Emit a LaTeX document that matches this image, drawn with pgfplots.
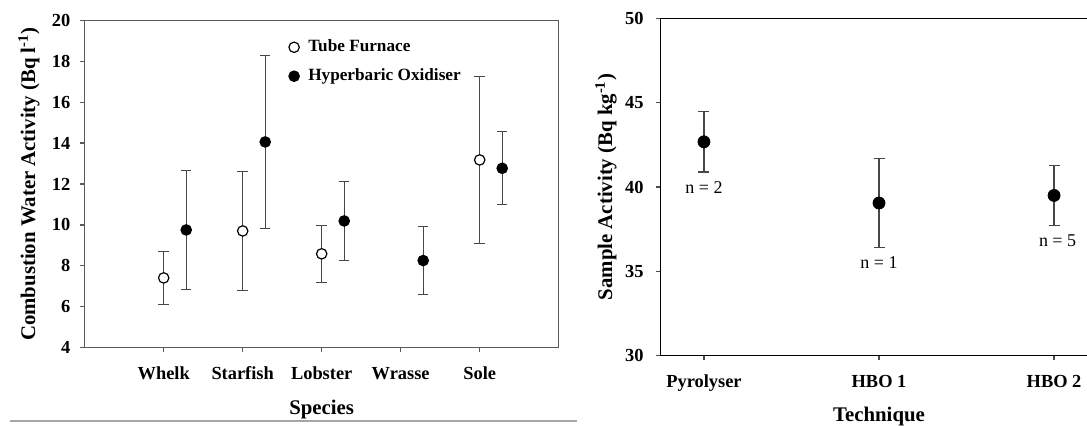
\documentclass[border=0pt]{standalone}
\usepackage{fontspec}
\setmainfont{Liberation Serif}
\usepackage{pgfplots}
\usepackage{pgfplotstable}
\pgfplotsset{compat=1.18}

\pgfplotstableread{
x y e
1 7.40 1.30
2 9.70 2.90
3 8.58 1.40
5 13.18 4.10
}\tubefurnace
\pgfplotstableread{
x y e
1.285 9.75 2.93
2.285 14.06 4.25
3.285 10.19 1.95
4.285 8.25 1.68
5.285 12.77 1.79
}\hyperbaric
\pgfplotstableread{
x y e
1 42.68 1.79
2 39.05 2.65
3 39.50 1.77
}\technique

\begin{document}
\begin{tikzpicture}
\useasboundingbox (0,0) rectangle (543.5pt,212.5pt);
\clip (0,0) rectangle (543.5pt,212.5pt);
\draw[black!35, line width=0.6pt] (5pt,2pt) -- (288.5pt,2pt);

\begin{axis}[
  at={(42.35pt,38.85pt)}, anchor=south west,
  scale only axis, width=237pt, height=163.3pt,
  xmin=0, xmax=6, ymin=4, ymax=20,
  xtick={1,2,3,4,5}, xticklabels={Whelk,Starfish,Lobster,Wrasse,Sole},
  ytick={4,6,...,20},
  tick align=outside, xtick pos=bottom, ytick pos=left,
  major tick length=2.35pt,
  axis line style={black!65, line width=0.7pt},
  every tick/.style={black!65, line width=0.7pt},
  tick label style={font=\fontsize{9.2}{10}\selectfont\bfseries},
  /pgf/number format/assume math mode=true,
  xticklabel style={anchor=base, yshift=-13.65pt, inner sep=0pt},
  yticklabel style={anchor=east, xshift=-4.65pt, inner sep=0pt},
  xlabel={Species}, ylabel={Combustion Water Activity (Bq l\textsuperscript{-1})},
  label style={font=\fontsize{10.4}{12}\selectfont\bfseries},
  xlabel style={at={(axis description cs:0.5,-0.207)}, anchor=base},
  ylabel style={at={(axis description cs:-0.1175,0.5)}, anchor=center},
  legend style={draw=none, fill=none, at={(axis description cs:0.43,0.955)}, anchor=north west,
    font=\fontsize{8.6}{10}\selectfont\bfseries, row sep=3pt, inner sep=0pt,
    /tikz/every odd column/.style={column sep=2.5pt}},
  legend cell align=left,
  legend image code/.code={\draw[#1] plot coordinates {(0.1cm,0cm)};},
]
\addplot[only marks, mark=*, mark size=2.6pt, mark options={fill=white, draw=black, line width=0.6pt},
  error bars/.cd, y dir=both, y explicit,
  error bar style={black!72, line width=0.6pt},
  error mark options={rotate=90, mark size=2.6pt, black!72, line width=0.6pt}]
  table[x=x, y=y, y error=e] {\tubefurnace};
\addlegendentry{Tube Furnace}
\addplot[only marks, mark=*, mark size=2.6pt, mark options={fill=black, draw=black, line width=0.6pt},
  error bars/.cd, y dir=both, y explicit,
  error bar style={black!72, line width=0.6pt},
  error mark options={rotate=90, mark size=2.6pt, black!72, line width=0.6pt}]
  table[x=x, y=y, y error=e] {\hyperbaric};
\addlegendentry{Hyperbaric Oxidiser}
\end{axis}

\begin{axis}[
  at={(330.35pt,34.65pt)}, anchor=south west,
  scale only axis, width=218.3pt, height=168.7pt,
  xmin=0.753, xmax=3.247, ymin=30, ymax=50,
  xtick={1,2,3}, xticklabels={Pyrolyser,HBO 1,HBO 2},
  ytick={30,35,...,50},
  tick align=outside, xtick pos=bottom, ytick pos=left,
  major tick length=2.35pt,
  axis line style={black, line width=0.6pt},
  every tick/.style={black!70, line width=0.6pt},
  tick label style={font=\fontsize{9.2}{10}\selectfont\bfseries},
  /pgf/number format/assume math mode=true,
  xticklabel style={anchor=base, yshift=-13.3pt, inner sep=0pt},
  yticklabel style={anchor=east, xshift=-6pt, inner sep=0pt},
  xlabel={Technique}, ylabel={Sample Activity (Bq kg\textsuperscript{-1})},
  label style={font=\fontsize{10.4}{12}\selectfont\bfseries},
  xlabel style={at={(axis description cs:0.5,-0.195)}, anchor=base},
  ylabel style={at={(axis description cs:-0.1253,0.5)}, anchor=center},
  clip=false,
]
\addplot[only marks, mark=*, mark size=3pt, mark options={fill=black, draw=black},
  error bars/.cd, y dir=both, y explicit,
  error bar style={black!72, line width=0.6pt},
  error mark options={rotate=90, mark size=2.75pt, black!72, line width=0.6pt}]
  table[x=x, y=y, y error=e] {\technique};
\node[font=\fontsize{9}{10}\selectfont] at (axis cs:1,39.96) {n = 2};
\node[font=\fontsize{9}{10}\selectfont] at (axis cs:2,35.5) {n = 1};
\node[font=\fontsize{9}{10}\selectfont] at (axis cs:3.02,36.8) {n = 5};
\end{axis}
\end{tikzpicture}
\end{document}
